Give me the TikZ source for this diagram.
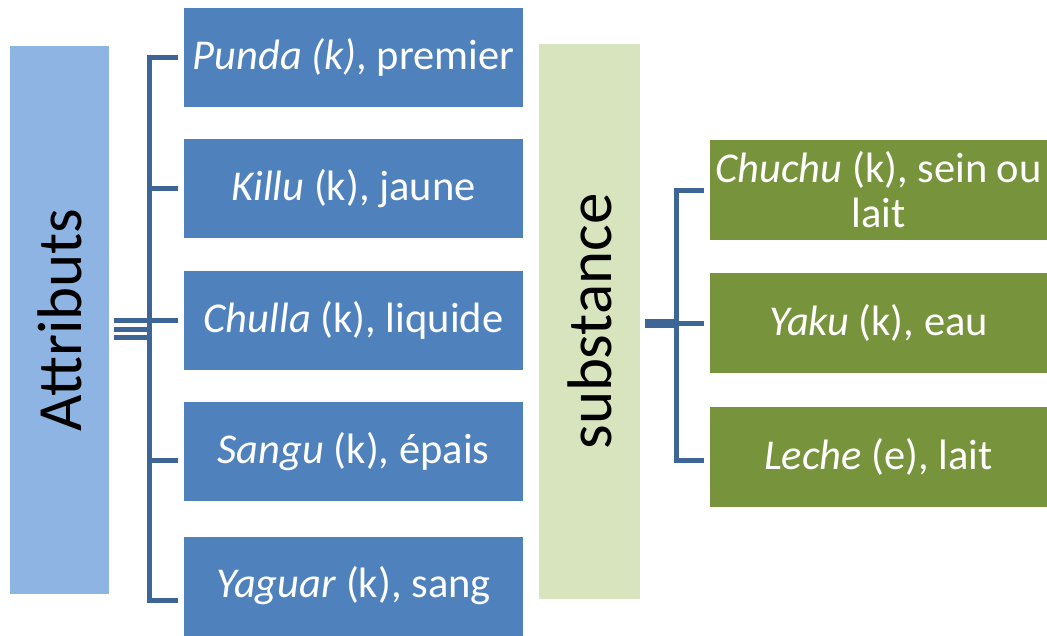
\documentclass[tikz,border=0pt]{standalone}
\usepackage{fontspec}
\setmainfont{Carlito}
\usetikzlibrary{calc}
\definecolor{bluebox}{RGB}{79,129,189}
\definecolor{lightblue}{RGB}{142,180,227}
\definecolor{greenbox}{RGB}{119,147,60}
\definecolor{lightgreen}{RGB}{215,228,189}
\definecolor{connc}{RGB}{61,101,150}
\tikzset{
  bbox/.style={fill=bluebox, draw=none, text=white, minimum width=339pt, minimum height=99pt, inner sep=0pt, font=\fontsize{42.5}{45}\selectfont},
  gbox/.style={fill=greenbox, draw=none, text=white, minimum width=337pt, minimum height=100pt, inner sep=0pt, font=\fontsize{42.5}{45}\selectfont, align=center},
  bigbox/.style={draw=none, minimum width=100pt, inner sep=0pt, font=\fontsize{63}{70}\selectfont},
  conn/.style={draw=connc, line width=5pt},
}
\begin{document}
\begin{tikzpicture}[x=1pt,y=-1pt]
\useasboundingbox (0,0) rectangle (1047,635);
\node[bigbox, fill=lightblue, minimum width=99pt, minimum height=548pt] (attr) at (59.5,320) {\rotatebox{90}{Attributs}};
\node[bigbox, fill=lightgreen, minimum width=101pt, minimum height=555pt] (subst) at (589.5,321.5) {\rotatebox{90}{substance}};
\node[bbox] (punda) at (353.5,57) {\textit{Punda (k)}, premier};
\node[bbox] (killu) at (353.5,188.5) {\textit{Killu} (k), jaune};
\node[bbox] (chulla) at (353.5,320.5) {\textit{Chulla} (k), liquide};
\node[bbox] (sangu) at (353.5,451.5) {\textit{Sangu} (k), épais};
\node[bbox] (yaguar) at (353.5,586) {\textit{Yaguar} (k), sang};
\node[gbox] (chuchu) at (878.5,190) {\textit{Chuchu} (k), sein ou\\lait};
\node[gbox] (yaku) at (878.5,323) {\textit{Yaku} (k), eau};
\node[gbox] (leche) at (878.5,456.5) {\textit{Leche} (e), lait};
% left bracket
\coordinate (lb) at (149.5,0);
\coordinate (pu) at ([xshift=-6pt]punda.west);
\coordinate (ki) at ([xshift=-6pt]killu.west);
\coordinate (ch) at ([xshift=-6pt]chulla.west);
\coordinate (sa) at ([xshift=-6pt,yshift=-8.5pt]sangu.west);
\coordinate (ya) at ([xshift=-6pt,yshift=-14pt]yaguar.west);
\draw[conn] (pu) -- (lb |- pu) -- (lb |- ya) -- (ya);
\draw[conn] (lb |- ki) -- (ki);
\draw[conn] (lb |- ch) -- (ch);
\draw[conn] (lb |- sa) -- (sa);
\coordinate (t1) at ([xshift=5pt]attr.east |- ch);
\draw[conn] (t1) -- (lb |- ch);
\draw[conn] ([yshift=-8.5pt]t1) -- ([yshift=-8.5pt]lb |- ch);
\draw[conn] ([yshift=-17pt]t1) -- ([yshift=-17pt]lb |- ch);
% right bracket
\coordinate (rb) at (676,0);
\coordinate (cu) at ([xshift=-6pt]chuchu.west);
\coordinate (yk) at ([xshift=-6pt]yaku.west);
\coordinate (le) at ([xshift=-6pt,yshift=-4pt]leche.west);
\draw[conn] (cu) -- (rb |- cu) -- (rb |- le) -- (le);
\draw[conn] (rb |- yk) -- (yk);
\draw[draw=connc, line width=9pt] ([xshift=5pt]subst.east |- yk) -- (rb |- yk);
\end{tikzpicture}
\end{document}
